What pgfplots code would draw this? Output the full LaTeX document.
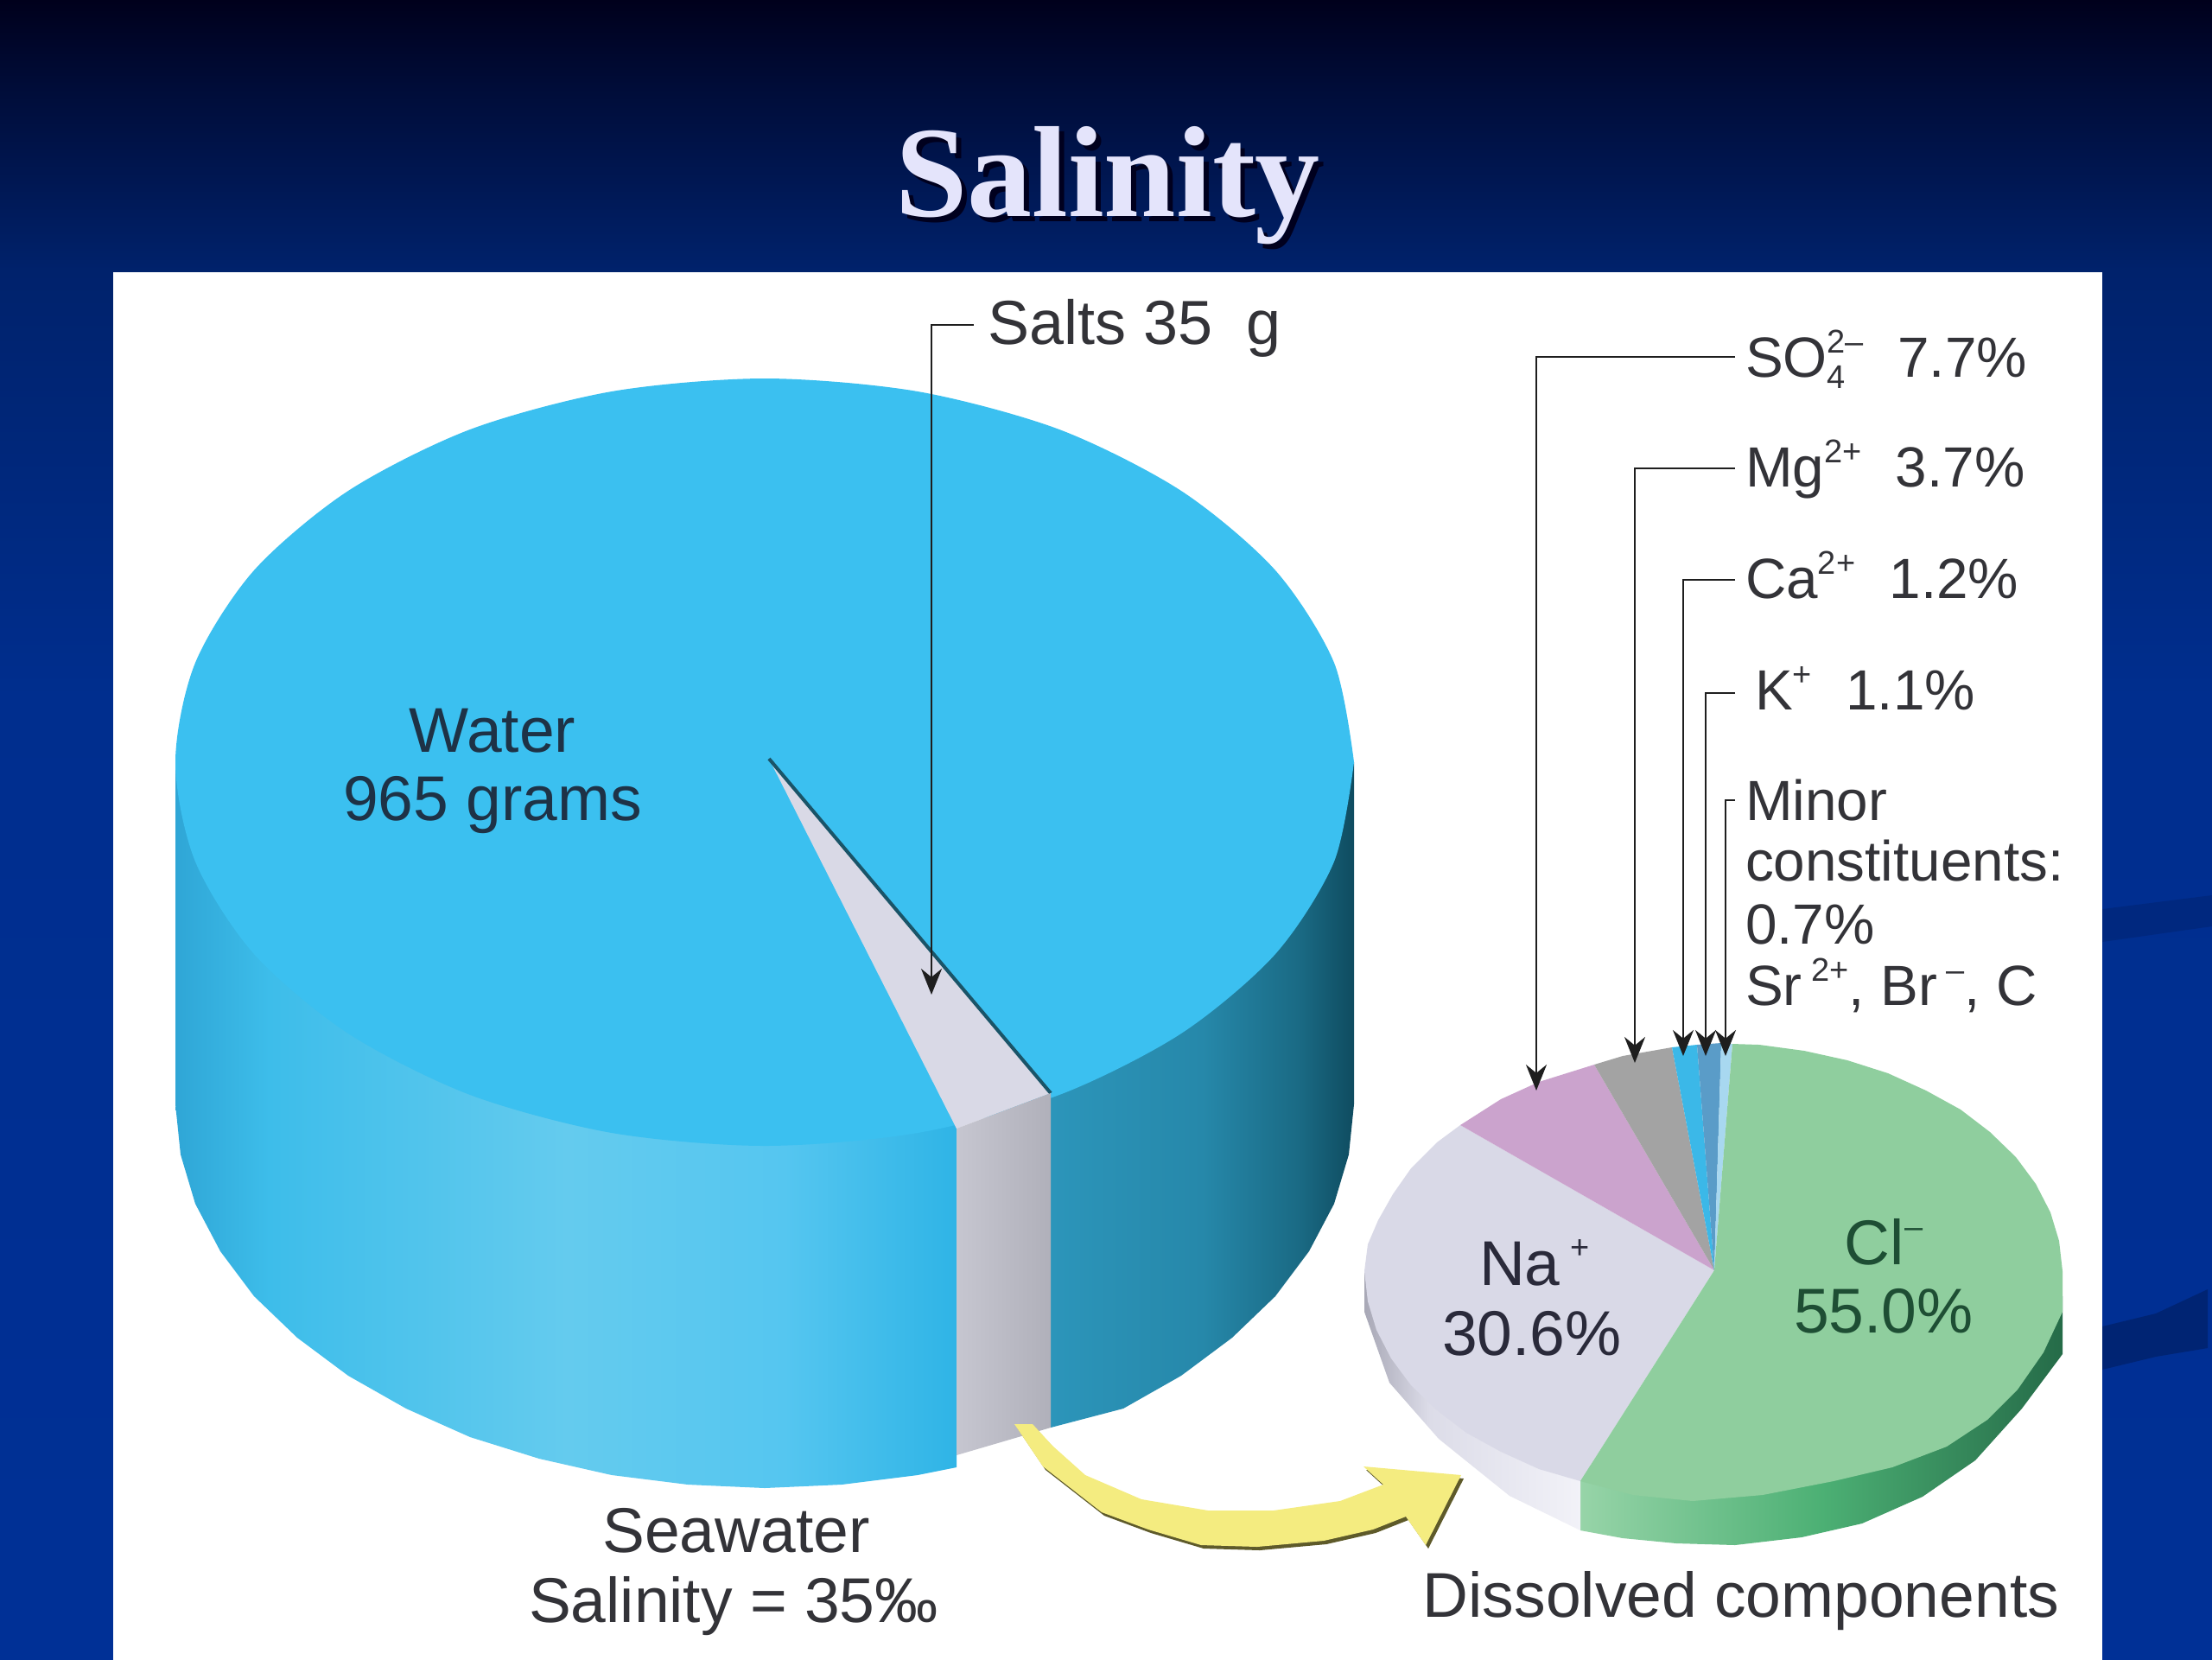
\documentclass[border=0pt]{standalone}
\usepackage{pgfplots}
\pgfplotsset{compat=1.18}
\usepackage{fontspec}
\usetikzlibrary{arrows.meta}
\setmainfont{Liberation Sans}
\newfontfamily\titlefont{Liberation Serif}
\definecolor{bgA}{HTML}{00001C}
\definecolor{bgB}{HTML}{000C38}
\definecolor{bgC}{HTML}{00226C}
\definecolor{bgD}{HTML}{002E8E}
\definecolor{bgE}{HTML}{003096}
\definecolor{wallA}{HTML}{2FA6D6}
\definecolor{wallB}{HTML}{3DBDEA}
\definecolor{wallC}{HTML}{64CBEE}
\definecolor{wallD}{HTML}{55C6F0}
\definecolor{wallE}{HTML}{2FB4E6}
\definecolor{rwA}{HTML}{2C95BA}
\definecolor{rwB}{HTML}{2688AA}
\definecolor{rwC}{HTML}{1A6A84}
\definecolor{rwD}{HTML}{0F4C60}
\definecolor{topc}{HTML}{3BC0F0}
\definecolor{wedge}{HTML}{D9D9E6}
\definecolor{stripA}{HTML}{C6C6D0}
\definecolor{stripB}{HTML}{B0B0BA}
\definecolor{grnA}{HTML}{97D4A8}
\definecolor{grnB}{HTML}{4CB074}
\definecolor{grnC}{HTML}{256B48}
\definecolor{grn}{HTML}{8FCE9E}
\definecolor{naA}{HTML}{A8A8B6}
\definecolor{naB}{HTML}{DCDCE8}
\definecolor{naC}{HTML}{F2F2F8}
\definecolor{nac}{HTML}{D9D9E7}
\definecolor{purp}{HTML}{CBA3CD}
\definecolor{gry}{HTML}{A3A3A3}
\definecolor{cab}{HTML}{3BB8E8}
\definecolor{kb}{HTML}{5A9CC8}
\definecolor{minb}{HTML}{A8D8F0}
\definecolor{txt}{HTML}{333338}
\definecolor{titlec}{HTML}{E4E4FB}
\definecolor{lead}{HTML}{1E1E1E}
\definecolor{olive}{HTML}{5E5A2A}
\definecolor{yell}{HTML}{F4EC80}
\pgfdeclareverticalshading{bgshade}{100bp}{color(0bp)=(bgE); color(25bp)=(bgE); color(54bp)=(bgD); color(66.8bp)=(bgC); color(72.4bp)=(bgB); color(75bp)=(bgA); color(100bp)=(bgA)}
\pgfdeclarehorizontalshading{leftwall}{100bp}{color(0bp)=(wallA); color(25bp)=(wallA); color(31bp)=(wallB); color(50bp)=(wallC); color(64bp)=(wallD); color(75bp)=(wallE); color(100bp)=(wallE)}
\pgfdeclarehorizontalshading{rightwall}{100bp}{color(0bp)=(rwA); color(25bp)=(rwA); color(50bp)=(rwB); color(66bp)=(rwC); color(75bp)=(rwD); color(100bp)=(rwD)}
\pgfdeclarehorizontalshading{strip}{100bp}{color(0bp)=(stripA); color(25bp)=(stripA); color(75bp)=(stripB); color(100bp)=(stripB)}
\pgfdeclarehorizontalshading{gwall}{100bp}{color(0bp)=(grnA); color(25bp)=(grnA); color(50bp)=(grnB); color(75bp)=(grnC); color(100bp)=(grnC)}
\pgfdeclarehorizontalshading{nwall}{100bp}{color(0bp)=(naA); color(25bp)=(naA); color(40bp)=(naB); color(75bp)=(naC); color(100bp)=(naC)}
\newcommand{\lab}{\fontsize{18.3}{22}\selectfont}
\newcommand{\slab}{\fontsize{16.4}{20}\selectfont}
\newcommand{\up}[1]{\raisebox{.42em}{\fontsize{9.5}{10}\selectfont #1}}
\newcommand{\dn}[1]{\raisebox{-.2em}{\fontsize{9.5}{10}\selectfont #1}}
\tikzset{lbl/.style={anchor=base west,inner sep=0pt,outer sep=0pt,text=txt},
  lead/.style={draw=lead,line width=.6pt,-{Stealth[length=7.5pt,width=6pt]}}}
\begin{document}
\begin{tikzpicture}
\begin{axis}[scale only axis,width=640pt,height=480pt,xmin=0,xmax=2560,ymin=0,ymax=1920,y dir=reverse,hide axis]
% slide background
\addplot[draw=none,shade,shading=bgshade] coordinates {(0,0)(2560,0)(2560,1920)(0,1920)} -- cycle;
\addplot[draw=none,fill=bgC,fill opacity=.45] coordinates {(2433,1052)(2560,1036)(2560,1072)(2433,1090)} -- cycle;
\addplot[draw=none,fill=bgC,fill opacity=.8] coordinates {(2433,1535)(2495,1520)(2555,1492)(2555,1560)(2495,1570)(2433,1585)} -- cycle;
% white panel
\addplot[draw=none,fill=white] coordinates {(131,315)(2433,315)(2433,1935)(131,1935)} -- cycle;
% big cylinder: left wall
\addplot[draw=none,shade,shading=leftwall] coordinates {(1107,882)(1107,1698)(1062,1707)(974,1718)(885,1722)(796,1718)(708,1707)(624,1688)(544,1663)(470,1630)(403,1592)(344,1548)(294,1500)(255,1448)(226,1393)(209,1336)(203,1278)(203,882)} -- cycle;
% right wall
\addplot[draw=none,shade,shading=rightwall] coordinates {(1216,1100)(1567,882)(1567,1278)(1561,1336)(1544,1393)(1515,1448)(1476,1500)(1426,1548)(1367,1592)(1300,1630)(1216,1652)} -- cycle;
% top surface
\addplot[draw=none,fill=topc,smooth] coordinates {(1567,882)(1544,997)(1476,1104)(1367,1196)(1226,1267)(1062,1311)(885,1326)(708,1311)(544,1267)(403,1196)(294,1104)(226,997)(203,882)(226,767)(294,660)(403,568)(544,497)(708,453)(885,438)(1062,453)(1226,497)(1367,568)(1476,660)(1544,767)(1567,882)};
% salt wedge
\addplot[draw=none,fill=wedge] coordinates {(890,878)(1216,1265)(1107,1306)} -- cycle;
\addplot[draw={rgb,255:red,26;green,84;blue,104},line width=1pt] coordinates {(890,878)(1216,1265)};
% salt strip
\addplot[draw=none,shade,shading=strip] coordinates {(1107,1306)(1216,1265)(1216,1652)(1107,1684)} -- cycle;
% yellow arrow: shadow, then body
\addplot[draw=none,fill=olive] coordinates {(1177,1652)(1210,1701)(1278,1754)(1332,1774)(1393,1792)(1458,1794)(1535,1787)(1592,1774)(1630,1759)(1653,1792)(1694,1711)(1581,1701)(1604,1722)(1554,1741)(1477,1752)(1401,1752)(1324,1739)(1259,1711)(1221,1677)(1198,1652)} -- cycle;
\addplot[draw=none,fill=yell] coordinates {(1174,1648)(1207,1697)(1275,1750)(1329,1770)(1390,1788)(1455,1790)(1532,1783)(1589,1770)(1627,1755)(1650,1788)(1691,1707)(1578,1697)(1601,1718)(1551,1737)(1474,1748)(1398,1748)(1321,1735)(1256,1707)(1218,1673)(1195,1648)} -- cycle;
% small pie: walls
\addplot[draw=none,shade,shading=gwall] coordinates {(1829,1700)(2387,1500)(2387,1567)(2340,1630)(2286,1690)(2225,1732)(2155,1763)(2085,1779)(2008,1788)(1940,1786)(1878,1780)(1829,1771)} -- cycle;
\addplot[draw=none,shade,shading=nwall] coordinates {(1579,1471)(1829,1600)(1829,1771)(1747,1731)(1665,1665)(1608,1600)(1579,1518)} -- cycle;
% small pie: slices
\addplot[draw=none,fill=nac] coordinates {(1984,1470)(1829,1714)(1781,1700)(1737,1680)(1697,1658)(1663,1632)(1633,1603)(1610,1572)(1593,1539)(1583,1506)(1579,1471)(1583,1440)(1595,1412)(1612,1382)(1633,1352)(1663,1322)(1690,1302)} -- cycle;
\addplot[draw=none,fill=purp] coordinates {(1984,1470)(1690,1302)(1737,1272)(1781,1252)(1845,1232)} -- cycle;
\addplot[draw=none,fill=gry] coordinates {(1984,1470)(1845,1232)(1878,1222)(1935,1212)} -- cycle;
\addplot[draw=none,fill=cab] coordinates {(1984,1470)(1935,1212)(1964,1209)} -- cycle;
\addplot[draw=none,fill=kb] coordinates {(1984,1470)(1964,1209)(1992,1207)} -- cycle;
\addplot[draw=none,fill=minb] coordinates {(1984,1470)(1992,1207)(2005,1208)} -- cycle;
\addplot[draw=none,fill=grn] coordinates {(1984,1470)(2005,1208)(2036,1209)(2088,1216)(2138,1227)(2185,1242)(2229,1262)(2269,1284)(2303,1310)(2333,1339)(2356,1370)(2373,1403)(2383,1436)(2387,1471)(2387,1518)(2365,1565)(2335,1608)(2300,1643)(2253,1674)(2190,1698)(2122,1714)(2040,1730)(1959,1737)(1890,1730)(1829,1714)} -- cycle;
% leader lines
\addplot[lead] coordinates {(1127,376)(1078,376)(1078,1151)};
\addplot[lead] coordinates {(2008,413)(1778,413)(1778,1262)};
\addplot[lead] coordinates {(2008,542)(1892,542)(1892,1230)};
\addplot[lead] coordinates {(2008,671)(1948,671)(1948,1222)};
\addplot[lead] coordinates {(2008,802)(1974,802)(1974,1222)};
\addplot[lead] coordinates {(2008,926)(1997,926)(1997,1222)};
% title
\node[text={rgb,255:red,0;green,0;blue,30}] at (axis cs:1288,221) {\titlefont\bfseries\fontsize{37.5}{40}\selectfont Salinity};
\node[text=titlec] at (axis cs:1282,215) {\titlefont\bfseries\fontsize{37.5}{40}\selectfont Salinity};
% labels
\node[lbl] at (axis cs:1143,398) {\fontsize{18}{22}\selectfont Salts 35\hspace{.55em}g};
\node[lbl] at (axis cs:2020,436) {\slab SO\rlap{\dn{4}}\up{2--}\hspace{.6em}7.7\%};
\node[lbl] at (axis cs:2020,563) {\slab Mg\up{2+}\hspace{.6em}3.7\%};
\node[lbl] at (axis cs:2020,692) {\slab Ca\up{2+}\hspace{.6em}1.2\%};
\node[lbl] at (axis cs:2031,821) {\slab K\up{+}\hspace{.6em}1.1\%};
\node[lbl] at (axis cs:2020,949) {\slab Minor};
\node[lbl] at (axis cs:2020,1019) {\slab constituents:};
\node[lbl] at (axis cs:2020,1092) {\slab 0.7\%};
\node[lbl] at (axis cs:2020,1163) {\slab Sr\,\up{2+}, Br\,\up{--}, C};
\node[text={rgb,255:red,30;green,50;blue,70}] at (axis cs:570,846) {\lab Water};
\node[text={rgb,255:red,30;green,50;blue,70}] at (axis cs:570,932) {\lab 965 grams};
\node[text=txt] at (axis cs:852,1771) {\lab Seawater};
\node[text=txt] at (axis cs:849,1859) {\lab Salinity = 35‰};
\node[text=txt] at (axis cs:2015,1853) {\lab Dissolved components};
\node[text={rgb,255:red,42;green,42;blue,58}] at (axis cs:1776,1461) {\lab Na\,\up{+}};
\node[text={rgb,255:red,42;green,42;blue,58}] at (axis cs:1773,1543) {\lab 30.6\%};
\node[text={rgb,255:red,30;green,78;blue,52}] at (axis cs:2180,1437) {\lab Cl\up{--}};
\node[text={rgb,255:red,30;green,78;blue,52}] at (axis cs:2180,1517) {\lab 55.0\%};
\end{axis}
\end{tikzpicture}
\end{document}
